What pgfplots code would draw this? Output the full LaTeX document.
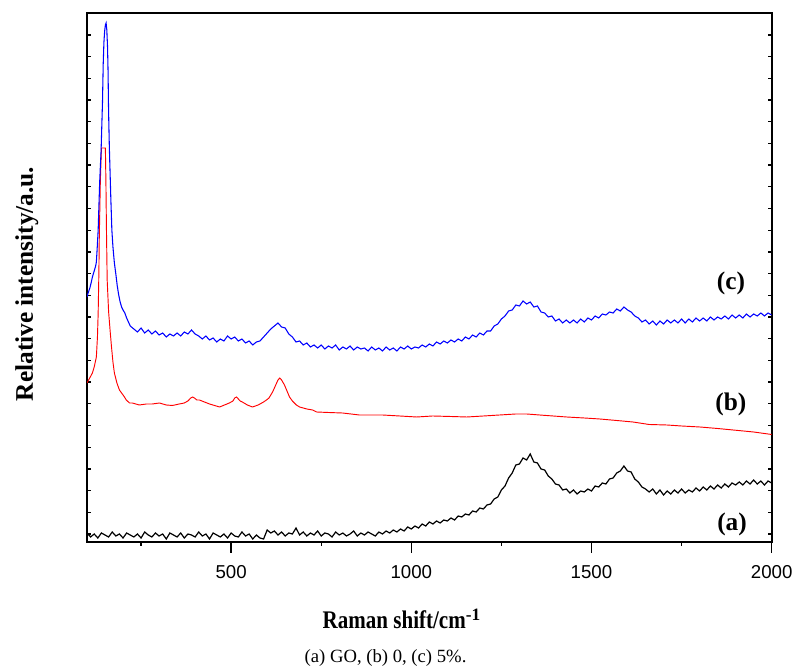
\documentclass[border=0pt]{standalone}
\usepackage{fontspec}
\setmainfont{Liberation Serif}
\newfontfamily\sansf{Liberation Sans}
\usepackage{pgfplots}
\pgfplotsset{compat=1.18}
\begin{document}
\begin{tikzpicture}
\begin{axis}[
  scale only axis, width=513.5pt, height=396.75pt,
  xmin=100, xmax=2000, ymin=0, ymax=529,
  axis line style={line width=1.4pt},
  xtick={500,1000,1500,2000},
  minor xtick={250,750,1250,1750},
  xtick pos=bottom,
  ytick={-1000},
  minor ytick={8,29.7,...,508},
  xtick align=outside, ytick align=inside,
  major tick length=8pt, minor tick length=3pt,
  tick style={black, line width=1pt},
  tick label style={font=\sansf\fontsize{14}{14}\selectfont},
  xticklabel style={yshift=-6pt},
  /pgf/number format/assume math mode=true,
  /pgf/number format/1000 sep={},
  clip=true,
]
\coordinate (sw) at (rel axis cs:0,0);
\coordinate (ne) at (rel axis cs:1,1);
% (b) 0
\addplot[red, line width=0.7pt] coordinates {
(100,159)(106,163)(115,169)(120,175)(126,185)(129,205)(131,229)(133,270)(134,302)(137,360)(140,394)
(151,394)(152.5,360)(154,312)(156,262)(160,230)(164,212)(168,195)(172,180)(176,169)(183,159)(190,152)
(198,148)(204,145)(209,142)(218,139)(226,139)(245,137)(265,138)(281,138)(301,139)(320,137)(337,136.5)
(356,138)(370,139)(380,141)(388,144)(393,145)(398,144)(405,142)(412,142)(440,138)(468,135)(495,139)
(505,141)(510,144)(515,145)(520,143)(525,141)(531,140)(545,137)(559,135)(575,137)(590,140)(598,142)
(605,144)(615,150)(625,158)(630,162)(635,164)(640,162)(648,157)(655,151)(662,145)(670,141)(681,137)
(690,135)(710,133)(726,132)(737,130)(770,129.5)(809,129)(856,127)(920,127)(968,126)(1015,125)
(1059,126)(1110,125.5)(1154,125)(1200,126)(1245,127)(1290,128)(1320,128)(1356,127)(1431,125)
(1480,124)(1523,123)(1570,121.5)(1615,120)(1660,117.5)(1709,117)(1750,116)(1801,115)(1850,113.5)
(1893,112)(1950,110)(2000,107.5)
};
% (c) 5%
\addplot[blue, line width=0.8pt] coordinates {
(100,245)(104,250)(108,254)(112,260)(115,265)(120,271)(124,276)(126,280)(128,292)(130,305)(131,312)
(133,335)(135,358)(137,375)(139,390)(141,415)(143,440)(145,478)(147,500)(149,511)(151,517)(153,519)
(155,512)(157,495)(158.5,470)(159.5,440)(160.5,420)(162,395)(164,370)(166,345)(169,312)(172,295)
(176,279)(180,268)(184,256)(188,247)(192,240)(196,235)(200,232)(205,229)
(210,224)(220,216)(230,213)(240,210)(250,214)(260,209)(270,212)(280,208)(290,211)(300,207)
(310,209)(320,205)(330,208)(340,206)(350,209)(360,206)(370,210)(380,208)(390,212)(400,208)
(410,206)(420,203)(430,206)(440,202)(450,204)(460,200)(470,203)(480,201)(490,206)(500,203)
(510,205)(520,201)(530,203)(540,199)(550,201)(560,197)(570,200)(580,201)(590,205)(600,209)
(610,213)(620,216)(630,219)(640,215)(650,214)(660,208)(670,205)(680,200)(690,201)(700,197)
(710,199)(720,195)(730,197)(740,194)(750,197)(760,193)(770,196)(780,194)(790,197)(800,192)
(810,195)(820,193)(830,196)(840,192)(850,195)(860,193)(870,194)(880,191)(890,195)(900,192)
(910,194)(920,191)(930,195)(940,192)(950,194)(960,191)(970,195)(980,193)(990,196)(1000,193)
(1010,195)(1020,194)(1030,197)(1040,195)(1050,198)(1060,196)(1070,200)(1080,198)(1090,201)(1100,199)
(1110,202)(1120,200)(1130,203)(1140,201)(1150,205)(1160,203)(1170,207)(1180,205)(1190,209)(1200,207)
(1210,211)(1220,211)(1230,216)(1240,218)(1250,223)(1260,226)(1270,231)(1280,232)(1290,237)(1300,236)
(1310,241)(1320,238)(1330,240)(1340,235)(1350,236)(1360,230)(1370,229)(1380,225)(1390,226)(1400,221)
(1410,223)(1420,219)(1430,222)(1440,219)(1450,222)(1460,219)(1470,223)(1480,220)(1490,224)(1500,222)
(1510,226)(1520,224)(1530,228)(1540,227)(1550,230)(1560,229)(1570,233)(1580,231)(1590,235)(1600,232)
(1610,230)(1620,226)(1630,224)(1640,220)(1650,222)(1660,218)(1670,221)(1680,217)(1690,221)(1700,218)
(1710,222)(1720,219)(1730,222)(1740,219)(1750,223)(1760,219)(1770,223)(1780,220)(1790,224)(1800,221)
(1810,224)(1820,221)(1830,225)(1840,222)(1850,225)(1860,223)(1870,226)(1880,223)(1890,227)(1900,224)
(1910,227)(1920,224)(1930,228)(1940,225)(1950,228)(1960,226)(1970,229)(1980,226)(1990,229)(2000,227)
};
% (a) GO
\addplot[black, line width=0.9pt] coordinates {
(100,9)(110,5)(120,8)(130,4)(140,9)(150,7)(160,5)(170,10)(180,6)(190,8)
(200,4)(210,9)(220,7)(230,5)(240,8)(250,4)(260,10)(270,7)(280,5)(290,9)
(300,6)(310,8)(320,3)(330,9)(340,7)(350,5)(360,9)(370,4)(380,8)(390,7)
(400,5)(410,10)(420,6)(430,8)(440,3)(450,9)(460,7)(470,5)(480,8)(490,4)
(500,9)(510,6)(520,5)(530,10)(540,6)(550,8)(560,3)(570,7)(580,4)(590,3)
(600,12)(610,9)(620,11)(630,7)(640,10)(650,6)(660,9)(670,8)(680,14)(690,7)
(700,10)(710,6)(720,9)(730,7)(740,11)(750,6)(760,9)(770,8)(780,5)(790,10)
(800,7)(810,9)(820,6)(830,8)(840,11)(850,6)(860,9)(870,7)(880,10)(890,8)
(900,6)(910,10)(920,8)(930,11)(940,9)(950,12)(960,10)(970,13)(980,11)(990,15)
(1000,13)(1010,16)(1020,14)(1030,18)(1040,16)(1050,20)(1060,18)(1070,21)(1080,19)(1090,22)
(1100,21)(1110,24)(1120,22)(1130,26)(1140,25)(1150,28)(1160,27)(1170,31)(1180,30)(1190,34)
(1200,33)(1210,37)(1220,38)(1230,43)(1240,45)(1250,52)(1260,56)(1270,64)(1280,69)(1290,77)
(1300,78)(1310,84)(1320,82)(1330,88)(1340,80)(1350,79)(1360,73)(1370,72)(1380,66)(1390,63)
(1400,58)(1410,57)(1420,52)(1430,53)(1440,49)(1450,52)(1460,48)(1470,51)(1480,50)(1490,53)
(1500,51)(1510,56)(1520,55)(1530,59)(1540,58)(1550,63)(1560,64)(1570,69)(1580,71)(1590,76)
(1600,71)(1610,70)(1620,63)(1630,60)(1640,55)(1650,53)(1660,50)(1670,53)(1680,48)(1690,52)
(1700,47)(1710,51)(1720,48)(1730,52)(1740,49)(1750,53)(1760,49)(1770,52)(1780,50)(1790,54)
(1800,51)(1810,55)(1820,52)(1830,56)(1840,53)(1850,57)(1860,54)(1870,58)(1880,55)(1890,59)
(1900,57)(1910,60)(1920,57)(1930,61)(1940,58)(1950,62)(1960,58)(1970,61)(1980,57)(1990,61)(2000,59)
};
\node[font=\fontsize{19}{19}\selectfont\bfseries] at (axis cs:1887,259) {(c)};
\node[font=\fontsize{19}{19}\selectfont\bfseries] at (axis cs:1887,138) {(b)};
\node[font=\fontsize{19}{19}\selectfont\bfseries] at (axis cs:1890,18) {(a)};
\end{axis}
\node[anchor=base west, font=\fontsize{19}{19}\selectfont\bfseries]
  at ([shift={(173.25pt,-65.25pt)}]sw) {\scalebox{0.83}[1]{Raman shift/cm}\textsuperscript{\fontsize{13}{13}\selectfont -1}};
\node[anchor=base, rotate=90, font=\fontsize{19}{19}\selectfont\bfseries]
  at ([shift={(-40.5pt,193.5pt)}]sw) {Relative intensity/a.u.};
\node[anchor=base west, font=\fontsize{14}{14}\selectfont]
  at ([shift={(159.75pt,-90.75pt)}]sw) {(a) GO, (b) 0, (c) 5\%.};
\pgfresetboundingbox
\path ([shift={(-65.25pt,-96pt)}]sw) rectangle ([shift={(16pt,9.75pt)}]ne);
\end{tikzpicture}
\end{document}
